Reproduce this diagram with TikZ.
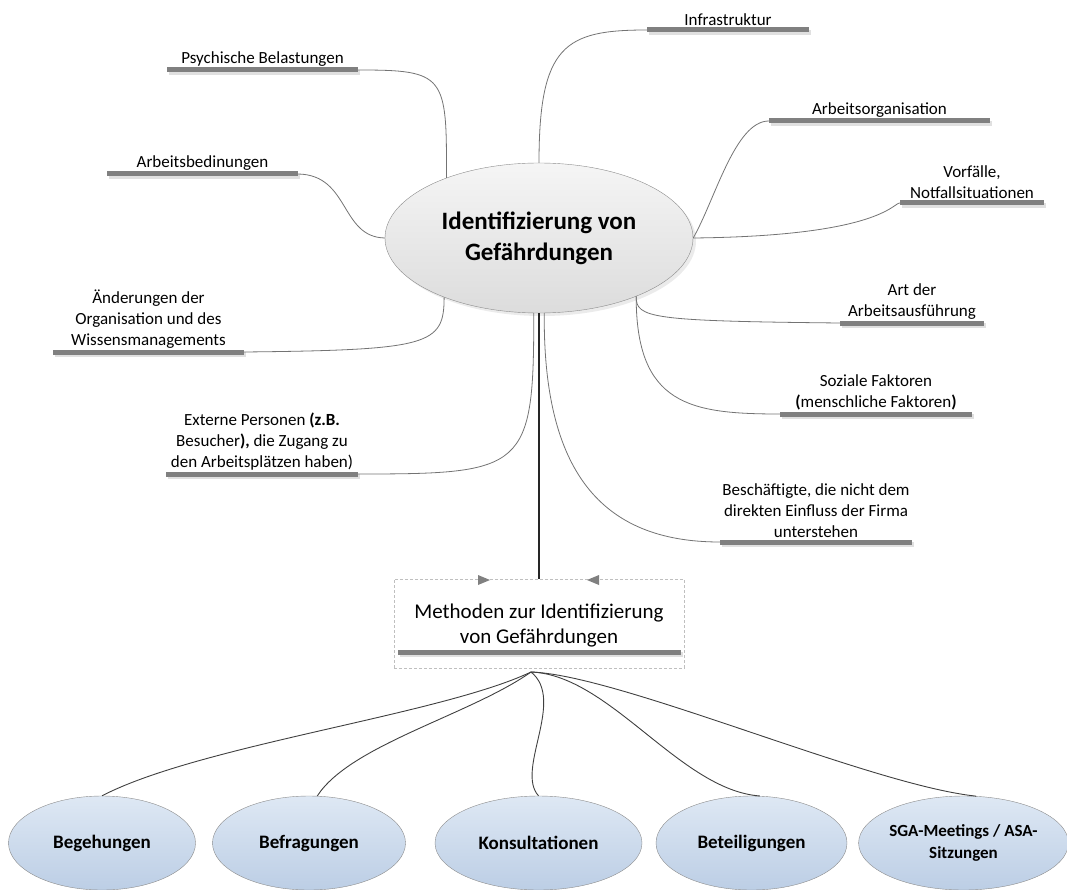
\documentclass[tikz,border=0pt]{standalone}
\usepackage{fontspec}
\setmainfont{Carlito}
\usepackage{tikz}
\usetikzlibrary{positioning,shapes.geometric,shadows}
\definecolor{barcol}{RGB}{128,128,128}
\definecolor{hubtop}{RGB}{245,245,245}
\definecolor{hubbot}{RGB}{220,220,220}
\definecolor{methtop}{RGB}{222,232,244}
\definecolor{methbot}{RGB}{188,206,229}
\tikzstyle{hub}=[ellipse,draw=black!45,top color=hubtop,bottom color=hubbot,minimum width=308pt,minimum height=150pt,inner sep=0pt,align=center,font=\fontsize{25}{31}\selectfont\bfseries,general shadow={fill=black!8,shadow xshift=3pt,shadow yshift=-3pt}]
\tikzstyle{topicbar}=[rectangle,fill=barcol,minimum height=5pt,inner sep=0pt,general shadow={fill=black!12,shadow xshift=2pt,shadow yshift=-2.5pt}]
\tikzstyle{topic}=[align=center,inner sep=0pt,font=\fontsize{17}{21}\selectfont]
\tikzstyle{link}=[draw=black!55,line width=0.8pt]
\tikzstyle{fanlink}=[draw=black!75,line width=0.9pt]
\tikzstyle{trunk}=[draw=black!85,line width=2.5pt]
\tikzstyle{methbox}=[rectangle,draw=black!25,dash pattern=on 3pt off 2pt,line width=0.6pt,inner sep=0pt]
\tikzstyle{methtext}=[align=center,inner sep=0pt,font=\fontsize{21}{25}\selectfont]
\tikzstyle{method}=[ellipse,draw=black!45,top color=methtop,bottom color=methbot,minimum height=94pt,inner sep=0pt,align=center,font=\fontsize{19}{22}\selectfont\bfseries]
\tikzstyle{marker}=[fill=black!50]

\begin{document}
\begin{tikzpicture}[x=1pt,y=-1pt]
\useasboundingbox (0,0) rectangle (1067,890);

\node[hub] (main) at (539,238) {Identifizierung von\\Gef\"ahrdungen};

% topics left
\node[topicbar,minimum width=191pt] (psych) at (262.5,70) {};
\node[topic,above=1pt of psych] (psych-t) {Psychische Belastungen};
\node[topicbar,minimum width=191pt] (bedin) at (202.5,174) {};
\node[topic,above=1pt of bedin] (bedin-t) {Arbeitsbedinungen};
\node[topicbar,minimum width=191pt] (aender) at (148.5,352) {};
\node[topic,above=1pt of aender] (aender-t) {\"Anderungen der\\Organisation und des\\Wissensmanagements};
\node[topicbar,minimum width=192pt] (extern) at (262,474) {};
\node[topic,above=1pt of extern] (extern-t) {Externe Personen \textbf{(z.B.}\\Besucher\textbf{),} die Zugang zu\\den Arbeitspl\"atzen haben)};

% topics right
\node[topicbar,minimum width=162pt] (infra) at (728,30) {};
\node[topic,above=1pt of infra] (infra-t) {Infrastruktur};
\node[topicbar,minimum width=221pt] (orga) at (879.5,121) {};
\node[topic,above=1pt of orga] (orga-t) {Arbeitsorganisation};
\node[topicbar,minimum width=144pt] (vorf) at (972,203) {};
\node[topic,above=1pt of vorf] (vorf-t) {Vorf\"alle,\\Notfallsituationen};
\node[topicbar,minimum width=144pt] (art) at (912,323) {};
\node[topic,above=1pt of art] (art-t) {Art der\\Arbeitsausf\"uhrung};
\node[topicbar,minimum width=192pt] (sozial) at (876,414) {};
\node[topic,above=1pt of sozial] (sozial-t) {Soziale Faktoren\\\textbf{(}menschliche Faktoren\textbf{)}};
\node[topicbar,minimum width=192pt] (besch) at (816,542) {};
\node[topic,above=1pt of besch] (besch-t) {Besch\"aftigte, die nicht dem\\direkten Einfluss der Firma\\unterstehen};

% methods
\node[methbox,minimum width=290pt,minimum height=89pt] (meth) at (539,623.5) {};
\node[methtext] (meth-t) at (539,626) {Methoden zur Identifizierung\\von Gef\"ahrdungen};
\node[topicbar,minimum width=283pt] (meth-bar) at (539,652) {};
\fill[marker] (478,575) -- (490,580) -- (478,585) -- cycle;
\fill[marker] (599,575) -- (587,580) -- (599,585) -- cycle;

\node[method,minimum width=187pt] (beg) at (102,843) {Begehungen};
\node[method,minimum width=193pt] (bef) at (309,843) {Befragungen};
\node[method,minimum width=207pt] (kon) at (538.5,843) {\raisebox{-5pt}{Konsultationen}};
\node[method,minimum width=191pt] (bet) at (751.5,843) {Beteiligungen};
\node[method,minimum width=197pt,font=\fontsize{17}{22}\selectfont\bfseries] (sga) at (963.5,843) {SGA-Meetings / ASA-\\Sitzungen};

\draw[link] (main.north) .. controls (539,45) and (565,30) .. (infra.west);
\draw[link] (psych.east) .. controls (445,70) and (447,75) .. (main.147);
\draw[link] (bedin.east) .. controls (350,175) and (340,237) .. (main.west);
\draw[link] (aender.east) .. controls (430,350) and (444,345) .. (main.212);
\draw[link] (extern.east) .. controls (525,474) and (534,470) .. (main.266);
\draw[link] (main.east) .. controls (715,200) and (735,121) .. (orga.west);
\draw[link] (main.east) .. controls (880,236) and (893,203) .. (vorf.west);
\draw[link] (main.329) .. controls (636,318) and (650,321) .. (art.west);
\draw[link] (main.329) .. controls (636,405) and (690,414) .. (sozial.west);
\draw[link] (main.274) .. controls (543,470) and (600,542) .. (besch.west);

\draw[trunk] (main.south) -- (meth.north);

\coordinate (fan) at (531,672);
\draw[fanlink] (fan) .. controls (440,715) and (200,745) .. (beg.north);
\draw[fanlink] (fan) .. controls (470,715) and (350,745) .. (bef.80);
\draw[fanlink] (fan) .. controls (566,700) and (515,770) .. (kon.north);
\draw[fanlink] (fan) .. controls (610,675) and (680,790) .. (bet.80);
\draw[fanlink] (fan) .. controls (620,675) and (870,785) .. (sga.75);
\end{tikzpicture}
\end{document}
